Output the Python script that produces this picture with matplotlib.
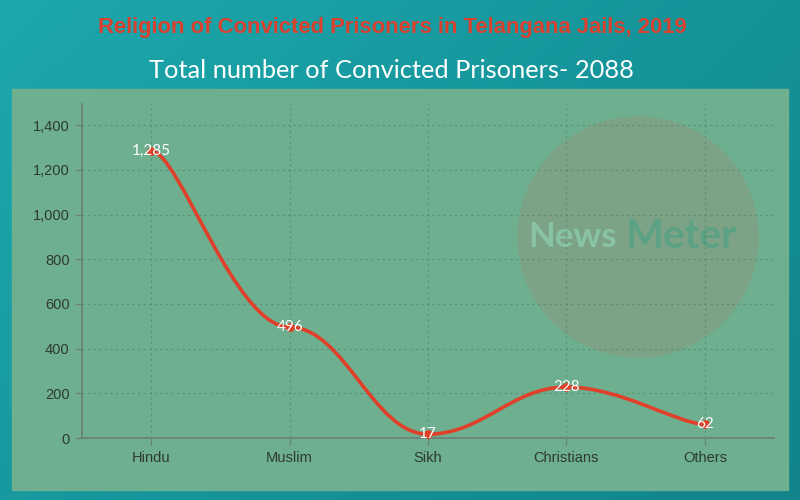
import matplotlib.pyplot as plt
import numpy as np
from matplotlib.path import Path
from matplotlib.patches import PathPatch, Circle, Rectangle
from matplotlib.colors import LinearSegmentedColormap

# Data
religions = ["Hindu", "Muslim", "Sikh", "Christians", "Others"]
prisoners = [1285, 496, 17, 228, 62]
yticks = [0, 200, 400, 600, 800, 1000, 1200, 1400]


def smooth_path(xs, ys, a=0.2):
    """Smoothed line with horizontal tangents at each point (tensionX=0.8 style)"""
    xs = list(map(float, xs))
    ys = list(map(float, ys))
    n = len(xs)
    verts = [(xs[0], ys[0])]
    codes = [Path.MOVETO]
    for i in range(n - 1):
        x0 = xs[i - 1] if i > 0 else xs[i]
        x3 = xs[i + 2] if i + 2 < n else xs[i + 1]
        verts += [(xs[i] + a * (xs[i + 1] - x0), ys[i]),
                  (xs[i + 1] - a * (x3 - xs[i]), ys[i + 1]),
                  (xs[i + 1], ys[i + 1])]
        codes += [Path.CURVE4] * 3
    return Path(verts, codes)


fig = plt.figure(figsize=(8, 5), dpi=100)

# teal gradient background, green panel and watermark circle (pixel units)
bg = fig.add_axes([0, 0, 1, 1], zorder=-10)
gx, gy = np.meshgrid(np.linspace(0, 1, 200), np.linspace(0, 1, 120))
bg.imshow(gx * 0.6 + gy * 0.4, cmap=LinearSegmentedColormap.from_list("bg", ["#1ca8ad", "#10848a"]),
          aspect="auto", extent=[0, 800, 500, 0])
bg.add_patch(Rectangle((12, 89), 776, 401, color="#6daf8f", zorder=2))
bg.add_patch(Circle((638, 237), 120, color="#7ca385", zorder=3))
bg.set_xlim(0, 800)
bg.set_ylim(500, 0)
bg.set_axis_off()

# watermark
bg.text(528, 237, "News", color="#88c4a3", fontsize=25, fontweight="bold",
        family="Lato", ha="left", va="center", zorder=4)
bg.text(626, 237, "Meter", color="#5ca184", fontsize=29, fontweight="bold",
        family="Lato", ha="left", va="center", zorder=4)

# titles
bg.text(392, 28, "Religion of Convicted Prisoners in Telangana Jails, 2019",
        color="#d9412e", fontsize=15.8, fontweight="bold", family="Liberation Sans",
        ha="center", va="center", zorder=4)
bg.text(391, 70, "Total number of Convicted Prisoners- 2088",
        color="white", fontsize=18.3, family="Lato", ha="center", va="center", zorder=4)

ax = fig.add_axes([82 / 800, 1 - 438 / 500, 692 / 800, 334 / 500])
ax.patch.set_alpha(0)
x = np.arange(len(religions))
ax.add_patch(PathPatch(smooth_path(x, prisoners), facecolor="none", edgecolor="#e0402a",
                       lw=2.6, zorder=3, capstyle="round"))
ax.scatter(x, prisoners, s=28, color="#e0402a", zorder=3)
for xi, v in zip(x, prisoners):
    ax.text(xi, v, f"{v:,}", color="white", fontsize=11, family="Lato",
            ha="center", va="center", zorder=4)

ax.set_xlim(-0.5, len(religions) - 0.5)
ax.set_ylim(0, 1495)
ax.set_xticks(x)
ax.set_xticklabels(religions)
ax.set_yticks(yticks)
ax.set_yticklabels([f"{t:,}" for t in yticks])
ax.grid(True, color="#4f7d63", linestyle=(0, (2, 3)), lw=0.8, alpha=0.6)
ax.set_axisbelow(True)
for side in ["top", "right"]:
    ax.spines[side].set_visible(False)
for side in ["left", "bottom"]:
    ax.spines[side].set_color("#6b7f73")
    ax.spines[side].set_linewidth(1.2)
ax.tick_params(colors="#6b7f73", labelcolor="#2e3a33", labelsize=10.5, length=5, pad=4)
ax.tick_params(axis="x", pad=4)
for lbl in ax.get_xticklabels() + ax.get_yticklabels():
    lbl.set_family("Liberation Sans")

fig.savefig("out.png", dpi=100)
